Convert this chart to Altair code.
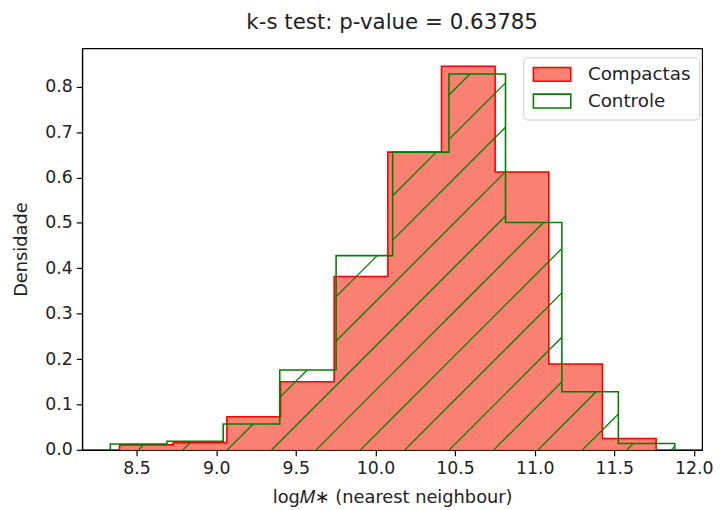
import altair as alt
import pandas as pd

# ---- data ----
series = ["Compactas", "Controle"]
comp_edges = [8.393, 8.730, 9.067, 9.404, 9.741, 10.078, 10.415, 10.752, 11.089, 11.426, 11.763]
comp_dens = [0.011, 0.016, 0.073, 0.150, 0.382, 0.656, 0.845, 0.612, 0.189, 0.025]
ctrl_edges = [8.335, 8.690, 9.044, 9.399, 9.753, 10.108, 10.462, 10.817, 11.171, 11.526, 11.880]
ctrl_dens = [0.013, 0.019, 0.057, 0.176, 0.428, 0.656, 0.828, 0.501, 0.128, 0.014]
x_ticks = [8.5, 9.0, 9.5, 10.0, 10.5, 11.0, 11.5, 12.0]
y_ticks = [0.0, 0.1, 0.2, 0.3, 0.4, 0.5, 0.6, 0.7, 0.8]
title_text = "k-s test: p-value = 0.63785"

# ---- layout ----
x_min, x_max = 8.158, 12.052
y_max = 0.8845
W, H = 627, 406
FONT = "DejaVu Sans"


def bars(edges, dens, name):
    return [{"serie": name, "x": edges[i], "x2": edges[i + 1], "y": h} for i, h in enumerate(dens)]


def outline(edges, dens, name):
    pts = [(edges[0], 0.0)]
    for i, h in enumerate(dens):
        pts.append((edges[i], h))
        pts.append((edges[i + 1], h))
    pts.append((edges[-1], 0.0))
    return [{"serie": name, "x": x, "y": y, "ordem": k} for k, (x, y) in enumerate(pts)]


bars_df = pd.DataFrame(bars(comp_edges, comp_dens, series[0]) + bars(ctrl_edges, ctrl_dens, series[1]))
outline_df = pd.DataFrame(outline(comp_edges, comp_dens, series[0]) + outline(ctrl_edges, ctrl_dens, series[1]))
title_df = pd.DataFrame({"titulo": [title_text]})

# hatch ('/') decoration for Controle, clipped to its bars
sx = W / (x_max - x_min)
sy = H / y_max
hatch_origin = 57.0
hatch_step = 44.9
hrows = []
for k in range(-20, 40):
    c = hatch_origin + k * hatch_step
    for i, h in enumerate(ctrl_dens):
        L = (ctrl_edges[i] - x_min) * sx
        R = (ctrl_edges[i + 1] - x_min) * sx
        T = h * sy
        a = max(L, c)
        b = min(R, c + T)
        if b > a:
            hrows.append({"x": a / sx + x_min, "y": (a - c) / sy,
                          "x2": b / sx + x_min, "y2": (b - c) / sy})
hatch_df = pd.DataFrame(hrows)

xscale = alt.Scale(domain=[x_min, x_max], nice=False, zero=False)
yscale = alt.Scale(domain=[0, y_max], nice=False, zero=False)

legend = alt.Legend(
    title=None, orient="none", legendX=446, legendY=9,
    symbolType="M-2.7,-1H2.7V1H-2.7Z", symbolSize=196, symbolStrokeWidth=1.6,
    symbolOffset=12, labelOffset=27, labelFontSize=18.5, labelFont=FONT, labelColor="#222222",
    rowPadding=6, padding=8, fillColor="rgba(255,255,255,0.8)", strokeColor="#cccccc",
    cornerRadius=4,
)

xaxis = alt.Axis(values=x_ticks, format=".1f", title="log𝑀∗ (nearest neighbour)", grid=False,
                 tickSize=6, labelPadding=4, titlePadding=12)
yaxis = alt.Axis(values=y_ticks, format=".1f", title="Densidade", grid=False,
                 tickSize=6, labelPadding=4, titlePadding=14)

fill_layer = alt.Chart(bars_df).mark_rect(strokeWidth=0.6).encode(
    x=alt.X("x:Q", scale=xscale, axis=xaxis),
    x2="x2:Q",
    y=alt.Y("y:Q", scale=yscale, axis=yaxis),
    y2=alt.datum(0),
    fill=alt.Fill("serie:N", scale=alt.Scale(domain=series, range=["#fa8072", "transparent"]), legend=legend),
    stroke=alt.Stroke("serie:N", scale=alt.Scale(domain=series, range=["#fa8072", "transparent"]), legend=None),
)

line_layer = alt.Chart(outline_df).mark_line(strokeWidth=1.6, strokeJoin="miter").encode(
    x=alt.X("x:Q", scale=xscale),
    y=alt.Y("y:Q", scale=yscale),
    order=alt.Order("ordem:Q"),
    color=alt.Color("serie:N", scale=alt.Scale(domain=series, range=["#ff0000", "#008000"]), legend=legend),
)

hatch = alt.Chart(hatch_df).mark_rule(color="#008000", strokeWidth=1.3).encode(
    x=alt.X("x:Q", scale=xscale),
    x2="x2:Q",
    y=alt.Y("y:Q", scale=yscale),
    y2="y2:Q",
)

title_layer = alt.Chart(title_df).mark_text(
    font=FONT, fontSize=21.6, color="#222222", align="center", baseline="alphabetic"
).encode(
    text="titulo:N",
    x=alt.value(W / 2),
    y=alt.value(-20),
)

chart = alt.layer(fill_layer, line_layer, hatch, title_layer).resolve_scale(stroke="independent").properties(
    width=W, height=H,
    autosize=alt.AutoSizeParams(type="none"),
    padding={"left": 75, "top": 38, "right": 11, "bottom": 60},
).configure_view(stroke="#000000", strokeWidth=1.2).configure_axis(
    domainColor="#000000", domainWidth=1.2, tickColor="#000000", tickWidth=1.2,
    labelFont=FONT, labelFontSize=17.5, labelColor="#222222",
    titleFont=FONT, titleFontSize=18, titleFontWeight="normal", titleColor="#222222",
)

chart.save("out.html", embed_options={"renderer": "svg", "actions": False})
